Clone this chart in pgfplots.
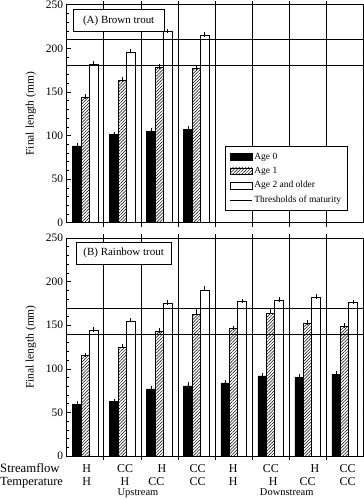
\documentclass[border=0pt]{standalone}
\usepackage{fontspec}
\setmainfont{Liberation Serif}
\usepackage{pgfplots}
\pgfplotsset{compat=1.18}
\usetikzlibrary{patterns.meta}

\pgfplotsset{
  panel/.style={
    scale only axis, width=296.3bp, height=218bp,
    anchor=south west,
    xmin=-0.5, xmax=7.5, ymin=0, ymax=250,
    xtick={0.5,1.5,...,6.5}, xticklabels={},
    xmajorgrids, grid style={black, line width=0.5bp},
    ytick={0,50,...,250}, minor y tick num=4, ytick pos=left,
    tick align=inside, major tick length=4bp, minor tick length=2.5bp,
    tick style={black, line width=0.5bp},
    axis line style={line width=0.6bp},
    yticklabel style={font=\fontsize{11.5}{13}\selectfont},
    /pgf/number format/assume math mode=true,
    ylabel={Final length (mm)},
    every axis y label/.style={at={(axis description cs:-0.1205,0.5)}, rotate=90, anchor=center, font=\fontsize{11.5}{13}\selectfont},
    ybar, bar width=0.227,
    clip=false,
  },
  errs/.style={error bars/y dir=plus, error bars/y explicit,
    error bars/error bar style={black, line width=0.5bp},
    error bars/error mark options={black, mark size=2.3bp, line width=0.5bp}},
  age0/.style={ybar, bar shift=-0.227, draw=black, fill=black, line width=0.5bp, errs},
  age1/.style={ybar, bar shift=0, draw=black, line width=0.5bp, pattern={Lines[angle=45,distance=2.2bp,line width=0.5bp]}, errs},
  age2/.style={ybar, bar shift=0.227, draw=black, fill=white, line width=0.5bp, errs},
  thr/.style={sharp plot, black, line width=0.5bp, no marks},
  boxleg/.style={legend image code/.code={\draw[##1] (0bp,-3.3bp) rectangle (22bp,3.3bp);}},
  lineleg/.style={legend image code/.code={\draw[##1] (0bp,0bp) -- (22bp,0bp);}},
}

\begin{document}
\begin{tikzpicture}
\path[use as bounding box] (0,0) rectangle (364bp,500bp);

% ---------------- (A) Brown trout ----------------
\begin{axis}[panel, at={(66.7bp,277.3bp)},
  legend style={at={(axis description cs:0.949,0.351)}, anchor=north east,
    draw=black, line width=0.5bp, fill=white, font=\fontsize{9.5}{11}\selectfont,
    inner xsep=4.5bp, inner ysep=4.5bp, row sep=2.5bp, cells={anchor=west}},
]
\addplot[age0, boxleg] coordinates {(0,88) +- (0,0.6) (1,101) +- (0,0.6) (2,105) +- (0,0.6) (3,107) +- (0,0.8)};
\addlegendentry{Age 0}
\addplot[age1, boxleg] coordinates {(0,144) +- (0,0.6) (1,163) +- (0,1.5) (2,178) +- (0,0.8) (3,177) +- (0,0.8)};
\addlegendentry{Age 1}
\addplot[age2, boxleg] coordinates {(0,182) +- (0,0.8) (1,196) +- (0,0.8) (2,219) +- (0,0.8) (3,215) +- (0,0.8)};
\addlegendentry{Age 2 and older}
\addplot[thr, lineleg] coordinates {(-0.5,210) (7.5,210)};
\addlegendentry{Thresholds of maturity}
\addplot[thr, forget plot] coordinates {(-0.5,180) (7.5,180)};
\pgfplotsinvokeforeach{0,50,...,250}{\draw[line width=0.5bp] (axis cs:7.5,#1) -- ++(-4bp,0);}
\node[draw, line width=0.5bp, fill=white, anchor=north west, minimum width=91.6bp, minimum height=21.3bp, inner sep=0pt, font=\fontsize{11}{13}\selectfont] at (axis description cs:0.02,0.978) {(A) Brown trout};
\end{axis}

% ---------------- (B) Rainbow trout ----------------
\begin{axis}[panel, at={(66.7bp,44bp)}]
\addplot[age0] coordinates {(0,59.5) +- (0,0.6) (1,62.5) +- (0,0.6) (2,77) +- (0,0.6) (3,80.5) +- (0,2.2) (4,84) +- (0,0.6) (5,92) +- (0,0.6) (6,90.5) +- (0,0.6) (7,94) +- (0,0.6)};
\addplot[age1] coordinates {(0,115) +- (0,0.6) (1,124.5) +- (0,1.8) (2,143) +- (0,0.6) (3,162) +- (0,3.5) (4,146) +- (0,0.6) (5,163.5) +- (0,2.5) (6,152.5) +- (0,0.6) (7,149) +- (0,0.8)};
\addplot[age2] coordinates {(0,144.5) +- (0,0.8) (1,155) +- (0,1) (2,175.5) +- (0,0.6) (3,190) +- (0,2.5) (4,177) +- (0,0.6) (5,179) +- (0,0.8) (6,182) +- (0,0.6) (7,176) +- (0,0.8)};
\addplot[thr] coordinates {(-0.5,170) (7.5,170)};
\addplot[thr] coordinates {(-0.5,140) (7.5,140)};
\pgfplotsinvokeforeach{0,50,...,250}{\draw[line width=0.5bp] (axis cs:7.5,#1) -- ++(-4bp,0);}
\node[draw, line width=0.5bp, fill=white, anchor=north west, minimum width=95bp, minimum height=22bp, inner sep=0pt, font=\fontsize{11}{13}\selectfont] at (axis description cs:0.031,0.982) {(B) Rainbow trout};
\end{axis}

% category labels
\foreach \x/\t in {86.7/H, 125/CC, 162/H, 197.5/CC, 233.3/H, 270.8/CC, 315/H, 347.5/CC}
  {\node[anchor=base, inner sep=0pt, font=\fontsize{12}{14}\selectfont] at (\x bp,27.3bp) {\t};}
\foreach \x/\t in {86.7/H, 125/H, 156.3/CC, 197.5/CC, 233.3/H, 273.3/H, 307.5/CC, 347.5/CC}
  {\node[anchor=base, inner sep=0pt, font=\fontsize{12}{14}\selectfont] at (\x bp,14.3bp) {\t};}
\node[anchor=base, inner sep=0pt, font=\fontsize{10.5}{12}\selectfont] at (138bp,4.3bp) {Upstream};
\node[anchor=base, inner sep=0pt, font=\fontsize{10.5}{12}\selectfont] at (286.7bp,4.3bp) {Downstream};
\node[anchor=base west, inner sep=0pt, font=\fontsize{12.8}{14}\selectfont] at (0bp,27.3bp) {Streamflow};
\node[anchor=base west, inner sep=0pt, font=\fontsize{12.5}{14}\selectfont] at (0bp,14.3bp) {Temperature};
\end{tikzpicture}
\end{document}
